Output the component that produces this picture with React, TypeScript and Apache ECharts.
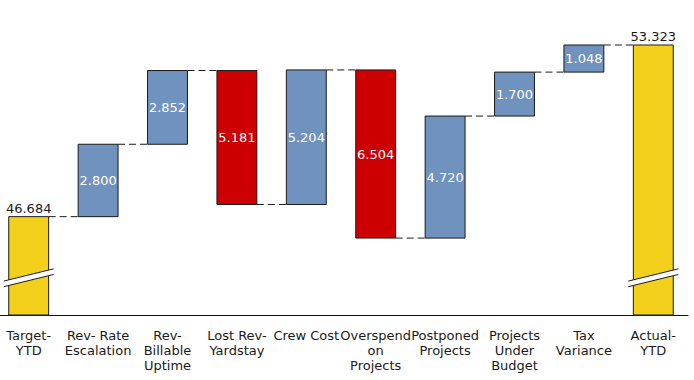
import React, { useEffect, useRef } from 'react';
import * as echarts from 'echarts';

const categories = [
  'Target-\nYTD',
  'Rev- Rate\nEscalation',
  'Rev-\nBillable\nUptime',
  'Lost Rev-\nYardstay',
  'Crew Cost',
  'Overspend\non\nProjects',
  'Postponed\nProjects',
  'Projects\nUnder\nBudget',
  'Tax\nVariance',
  'Actual-\nYTD',
];
const values = [46.684, 2.8, 2.852, 5.181, 5.204, 6.504, 4.72, 1.7, 1.048, 53.323];
const kinds = ['total', 'up', 'up', 'down', 'up', 'down', 'up', 'up', 'up', 'total'];

const Y_MIN = 42.88;
const Y_MAX = 54.29;
const BREAK_AT = 44.32;

const COLORS: Record<string, string> = {
  total: '#F2D01C',
  up: '#7092BE',
  down: '#CC0000',
};

function buildRows() {
  const rows: number[][] = [];
  let running = 0;
  values.forEach((v, i) => {
    const k = kinds[i];
    let low: number, high: number;
    if (k === 'total') {
      low = Y_MIN;
      high = v;
      running = v;
    } else if (k === 'up') {
      low = running;
      high = running + v;
      running = high;
    } else {
      high = running;
      low = running - v;
      running = low;
    }
    rows.push([i, low, high, running, v]);
  });
  return rows;
}

export default function App() {
  const ref = useRef<HTMLDivElement>(null);
  useEffect(() => {
    if (!ref.current) return;
    const chart = echarts.init(ref.current, null, { renderer: 'svg' });
    const rows = buildRows();
    const font = 'DejaVu Sans, Verdana, sans-serif';
    chart.setOption({
      animation: false,
      grid: { left: 0, right: 6, top: 20, bottom: 65 },
      xAxis: {
        type: 'category',
        data: categories,
        axisLine: { show: true, lineStyle: { color: '#111', width: 1 } },
        axisTick: { show: false },
        axisLabel: {
          interval: 0,
          margin: 13,
          color: '#1a1a1a',
          fontFamily: font,
          fontSize: 13,
          lineHeight: 15,
        },
      },
      yAxis: {
        type: 'value',
        min: Y_MIN,
        max: Y_MAX,
        show: false,
        splitLine: { show: false },
      },
      series: [
        {
          type: 'custom',
          data: rows,
          clip: false,
          renderItem: (params: any, api: any) => {
            const idx = params.dataIndex;
            const i = api.value(0);
            const low = api.value(1);
            const high = api.value(2);
            const end = api.value(3);
            const v = api.value(4);
            const kind = kinds[idx];
            const bw = api.size([1, 0])[0] * 0.575;
            const pTop = api.coord([i, high]);
            const pBot = api.coord([i, low]);
            const x0 = pTop[0] - bw / 2;
            const children: any[] = [];
            children.push({
              type: 'rect',
              shape: { x: x0, y: pTop[1], width: bw, height: pBot[1] - pTop[1] },
              style: { fill: COLORS[kind], stroke: '#1a1a1a', lineWidth: 1 },
            });
            if (kind === 'total') {
              const c = api.coord([i, BREAK_AT]);
              const half = bw / 2 + 5;
              const dy = half * 0.245;
              const g = 2.8;
              const ul = [c[0] - half, c[1] - g + dy];
              const ur = [c[0] + half, c[1] - g - dy];
              const ll = [c[0] - half, c[1] + g + dy];
              const lr = [c[0] + half, c[1] + g - dy];
              children.push({
                type: 'polygon',
                shape: { points: [ul, ur, lr, ll] },
                style: { fill: '#ffffff', stroke: null },
              });
              children.push({
                type: 'line',
                shape: { x1: ul[0], y1: ul[1], x2: ur[0], y2: ur[1] },
                style: { stroke: '#1a1a1a', lineWidth: 1 },
              });
              children.push({
                type: 'line',
                shape: { x1: ll[0], y1: ll[1], x2: lr[0], y2: lr[1] },
                style: { stroke: '#1a1a1a', lineWidth: 1 },
              });
              children.push({
                type: 'text',
                style: {
                  text: v.toFixed(3),
                  x: pTop[0],
                  y: pTop[1] - 2,
                  align: 'center',
                  verticalAlign: 'bottom',
                  fill: '#1a1a1a',
                  fontFamily: font,
                  fontSize: 13,
                },
              });
            } else {
              children.push({
                type: 'text',
                style: {
                  text: v.toFixed(3),
                  x: pTop[0],
                  y: (pTop[1] + pBot[1]) / 2,
                  align: 'center',
                  verticalAlign: 'middle',
                  fill: '#ffffff',
                  fontFamily: font,
                  fontSize: 13,
                },
              });
            }
            if (idx < rows.length - 1) {
              const pe = api.coord([i, end]);
              const pn = api.coord([i + 1, end]);
              children.push({
                type: 'line',
                shape: { x1: x0 + bw, y1: pe[1], x2: pn[0] - bw / 2, y2: pn[1] },
                style: { stroke: '#1a1a1a', lineWidth: 1, lineDash: [7, 4] },
              });
            }
            return { type: 'group', children };
          },
        },
      ],
    });
    return () => chart.dispose();
  }, []);
  return (
    <div
      ref={ref}
      style={{ position: 'fixed', left: -6, top: 0, width: 700, height: 380, background: '#fff' }}
    />
  );
}
